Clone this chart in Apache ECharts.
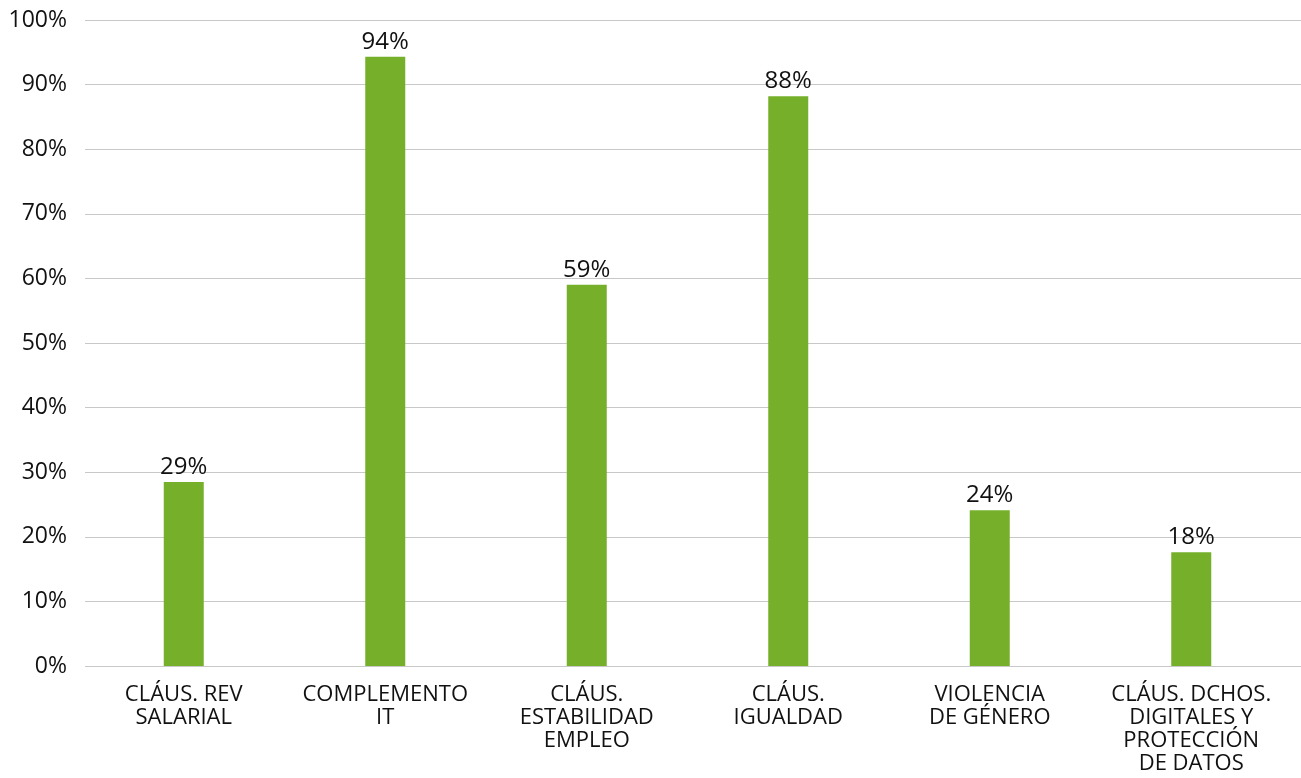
<!DOCTYPE html>
<html><head><meta charset="utf-8">
<script src="https://cdn.jsdelivr.net/npm/echarts@6/dist/echarts.min.js"></script>
<style>html,body{margin:0;padding:0;background:#fff}#c{width:1301px;height:778px}</style>
</head><body><div id="c"></div>
<script>
const categories = ["CLÁUS. REV\nSALARIAL","COMPLEMENTO\nIT","CLÁUS.\nESTABILIDAD\nEMPLEO","CLÁUS.\nIGUALDAD","VIOLENCIA\nDE GÉNERO","CLÁUS. DCHOS.\nDIGITALES Y\nPROTECCIÓN\nDE DATOS"];
const values = [28.5, 94.3, 59.0, 88.2, 24.1, 17.6];
const yTicks = [0,10,20,30,40,50,60,70,80,90,100];
const font = "Open Sans";
const chart = echarts.init(document.getElementById('c'));
chart.setOption({
  animation:false,
  grid:[
    {left:85,right:0,top:20,bottom:112,containLabel:false},
    {left:83,right:9,top:20,bottom:112,containLabel:false}
  ],
  xAxis:[
    {type:'value',gridIndex:0,show:false,min:0,max:1},
    {type:'category',gridIndex:1,data:categories,
    axisLine:{show:false},
    axisTick:{show:false},
    axisLabel:{interval:0,color:'#111',fontFamily:font,fontWeight:500,fontSize:22,lineHeight:23,margin:17,verticalAlign:'top'}}
  ],
  yAxis:[
    {type:'value',gridIndex:0,min:0,max:100,interval:10,
    axisLine:{show:false},axisTick:{show:false},
    splitLine:{lineStyle:{color:'#c8c8c8',width:1}},
    axisLabel:{color:'#111',fontFamily:font,fontSize:23,margin:18,formatter:v=>yTicks.includes(v)?v+'%':''}},
    {type:'value',gridIndex:1,min:0,max:100,interval:10,show:false,splitLine:{show:false}}
  ],
  series:[{type:'bar',xAxisIndex:1,yAxisIndex:1,data:values,barWidth:40,itemStyle:{color:'#76b02a'},
    label:{show:true,position:'top',distance:3,color:'#111',fontFamily:font,fontSize:24,formatter:p=>Math.round(p.value)+'%'}}]
});
</script></body></html>
